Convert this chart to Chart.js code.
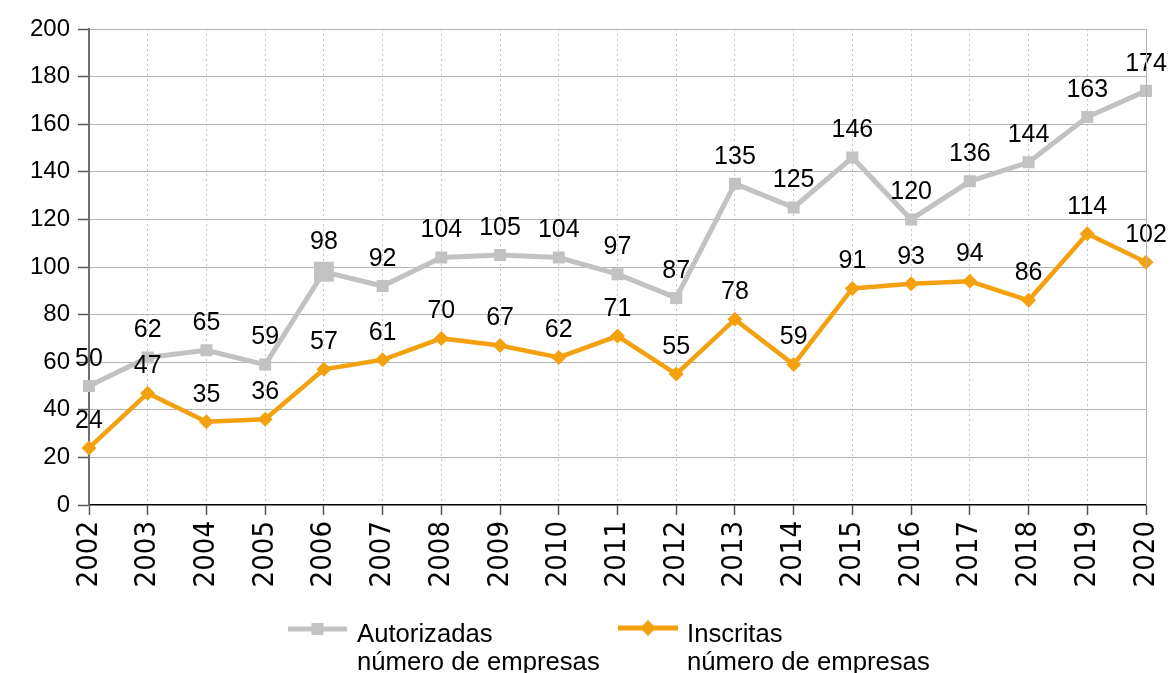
<!DOCTYPE html>
<html>
<head>
<meta charset="utf-8">
<script src="https://cdn.jsdelivr.net/npm/chart.js@4/dist/chart.umd.min.js"></script>
<style>
  html, body { margin: 0; padding: 0; background: #fff; }
  #wrap { width: 1170px; height: 673px; position: relative; }
</style>
</head>
<body>
<div id="wrap"><canvas id="c"></canvas></div>
<script>
const years = ['2002','2003','2004','2005','2006','2007','2008','2009','2010','2011','2012','2013','2014','2015','2016','2017','2018','2019','2020'];
const autorizadas = [50,62,65,59,98,92,104,105,104,97,87,135,125,146,120,136,144,163,174];
const inscritas = [24,47,35,36,57,61,70,67,62,71,55,78,59,91,93,94,86,114,102];
const seriesNames = [['Autorizadas','número de empresas'], ['Inscritas','número de empresas']];
const yTicks = [0,20,40,60,80,100,120,140,160,180,200];

const GRAY = '#c2c2c2';
const ORANGE = '#f4a10f';
const FONT = "'Liberation Sans', Arial, sans-serif";

const dataLabels = {
  id: 'dataLabels',
  afterDatasetsDraw(chart) {
    const ctx = chart.ctx;
    ctx.save();
    ctx.font = '25px ' + FONT;
    ctx.fillStyle = '#000';
    ctx.textAlign = 'center';
    ctx.textBaseline = 'middle';
    chart.data.datasets.forEach((ds, di) => {
      const meta = chart.getDatasetMeta(di);
      meta.data.forEach((pt, i) => {
        const r = Array.isArray(ds.pointRadius) ? ds.pointRadius[i] : ds.pointRadius;
        const off = 27 + Math.max(0, r - 9) * 0.6;
        ctx.fillText(String(ds.data[i]), pt.x, pt.y - off);
      });
    });
    ctx.restore();
  }
};

const customLegend = {
  id: 'customLegend',
  afterDraw(chart) {
    const ctx = chart.ctx;
    const items = [
      {x0: 288, x1: 347, y: 629, color: GRAY, marker: 'square', tx: 357},
      {x0: 618, x1: 678, y: 628, color: ORANGE, marker: 'diamond', tx: 687}
    ];
    ctx.save();
    items.forEach((it, i) => {
      ctx.strokeStyle = it.color;
      ctx.lineWidth = 5;
      ctx.beginPath();
      ctx.moveTo(it.x0, it.y);
      ctx.lineTo(it.x1, it.y);
      ctx.stroke();
      ctx.fillStyle = it.color;
      const cx = (it.x0 + it.x1) / 2;
      if (it.marker === 'square') {
        ctx.fillRect(cx - 6, it.y - 6, 12, 12);
      } else {
        ctx.beginPath();
        ctx.moveTo(cx, it.y - 8);
        ctx.lineTo(cx + 8, it.y);
        ctx.lineTo(cx, it.y + 8);
        ctx.lineTo(cx - 8, it.y);
        ctx.closePath();
        ctx.fill();
      }
      ctx.fillStyle = '#000';
      ctx.font = '25.7px ' + FONT;
      ctx.textAlign = 'left';
      ctx.textBaseline = 'alphabetic';
      ctx.fillText(seriesNames[i][0], it.tx, 642);
      ctx.fillText(seriesNames[i][1], it.tx, 670);
    });
    // right border line
    const a = chart.chartArea;
    ctx.strokeStyle = '#b3b3b3';
    ctx.lineWidth = 1;
    ctx.beginPath();
    ctx.moveTo(Math.round(a.right) + 0.5, a.top);
    ctx.lineTo(Math.round(a.right) + 0.5, a.bottom);
    ctx.stroke();
    ctx.restore();
  }
};

new Chart(document.getElementById('c'), {
  type: 'line',
  data: {
    labels: years,
    datasets: [
      {
        label: seriesNames[0].join(' '),
        data: autorizadas,
        borderColor: GRAY,
        backgroundColor: GRAY,
        borderWidth: 5,
        pointStyle: 'rect',
        pointRadius: autorizadas.map((v, i) => years[i] === '2006' ? 14 : 8.5),
        pointHoverRadius: 8.5,
        pointBorderWidth: 0,
        tension: 0
      },
      {
        label: seriesNames[1].join(' '),
        data: inscritas,
        borderColor: ORANGE,
        backgroundColor: ORANGE,
        borderWidth: 4.5,
        pointStyle: 'rectRot',
        pointRadius: 7.5,
        pointHoverRadius: 7.5,
        pointBorderWidth: 0,
        tension: 0
      }
    ]
  },
  options: {
    responsive: true,
    maintainAspectRatio: false,
    animation: false,
    layout: { padding: { left: 0, right: 24, top: 29, bottom: 0 } },
    plugins: { legend: { display: false }, tooltip: { enabled: false } },
    scales: {
      x: {
        offset: false,
        grid: {
          color: (c) => c.index === 0 ? 'rgba(0,0,0,0)' : '#c4c4c4',
          lineWidth: 1,
          tickLength: 10,
          tickColor: '#555',
          tickWidth: 1.5
        },
        border: {
          display: true,
          color: '#000',
          width: 1.5,
          dash: (c) => [2, 3]
        },
        ticks: {
          autoSkip: false,
          minRotation: 90,
          maxRotation: 90,
          padding: 6,
          color: '#000',
          font: { family: "'Liberation Sans Narrow', 'DejaVu Sans Condensed', 'Liberation Sans', sans-serif", size: 29 }
        },
        afterFit(scale) { scale.height = 168; scale.paddingRight = 0; scale.paddingLeft = 0; }
      },
      y: {
        min: 0,
        max: 200,
        afterBuildTicks(scale) { scale.ticks = yTicks.map(v => ({ value: v })); },
        grid: {
          color: (c) => (c.tick && c.tick.value === 0) ? 'rgba(0,0,0,0)' : '#b5b5b5',
          lineWidth: 1,
          tickLength: 11,
          tickColor: '#555',
          tickWidth: 1.5
        },
        border: { display: true, color: '#6e6e6e', width: 2 },
        ticks: {
          padding: 8,
          color: '#000',
          font: { family: FONT, size: 24 }
        },
        afterFit(scale) { scale.width = 89; scale.paddingTop = 0; scale.paddingBottom = 0; }
      }
    }
  },
  plugins: [dataLabels, customLegend]
});
</script>
</body>
</html>
